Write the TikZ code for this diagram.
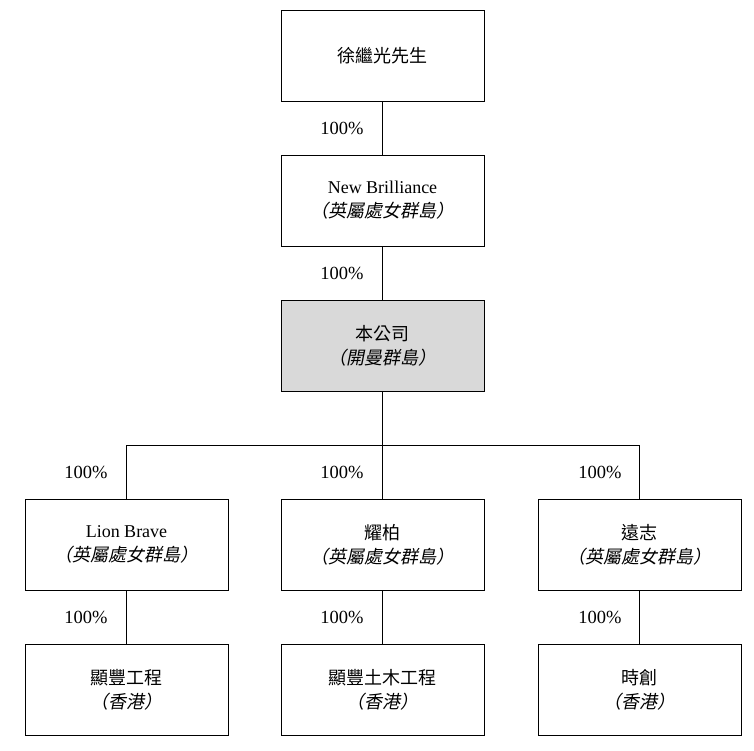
\documentclass[tikz,border=0pt]{standalone}
\usepackage{fontspec}
\setmainfont{Liberation Serif}
\newfontfamily\cjk{Noto Sans CJK TC}
\newfontfamily\cjkit[FakeSlant=0.2]{Noto Sans CJK TC}
\begin{document}
\begin{tikzpicture}[x=1pt,y=-1pt,
  box/.style={draw,line width=0.7pt,minimum width=203pt,minimum height=91pt,align=center,font=\fontsize{18}{24}\selectfont},
  pct/.style={font=\fontsize{18.5}{20}\selectfont},
  ln/.style={line width=0.7pt}]
\useasboundingbox (0,0) rectangle (754,751);
\node[box] (a) at (382.5,55.5) {\cjk 徐繼光先生};
\node[box] (b) at (382.5,200.5) {New Brilliance\\{\cjkit （英屬處女群島）}};
\node[box,fill=black!15] (c) at (382.5,345.5) {{\cjk 本公司}\\{\cjkit （開曼群島）}};
\node[box] (d1) at (126.5,544.5) {Lion Brave\\{\cjkit （英屬處女群島）}};
\node[box] (d2) at (382.5,544.5) {{\cjk 耀柏}\\{\cjkit （英屬處女群島）}};
\node[box] (d3) at (639.5,544.5) {{\cjk 遠志}\\{\cjkit （英屬處女群島）}};
\node[box] (e1) at (126.5,689.5) {{\cjk 顯豐工程}\\{\cjkit （香港）}};
\node[box] (e2) at (382.5,689.5) {{\cjk 顯豐土木工程}\\{\cjkit （香港）}};
\node[box] (e3) at (639.5,689.5) {{\cjk 時創}\\{\cjkit （香港）}};
\coordinate (bus) at (382.5,445);
\draw[ln] (a) -- (b);
\draw[ln] (b) -- (c);
\draw[ln] (c) -- (bus);
\draw[ln] (bus) -| (d1);
\draw[ln] (bus) -| (d3);
\draw[ln] (bus) -- (d2);
\draw[ln] (d1) -- (e1);
\draw[ln] (d2) -- (e2);
\draw[ln] (d3) -- (e3);
\node[pct] (p1) at (342,128) {100\%};
\node[pct] (p2) at (342,273) {100\%};
\node[pct] (p3) at (86,472) {100\%};
\node[pct] (p4) at (342,472) {100\%};
\node[pct] (p5) at (600,472) {100\%};
\node[pct] (p6) at (86,617) {100\%};
\node[pct] (p7) at (342,617) {100\%};
\node[pct] (p8) at (600,617) {100\%};
\end{tikzpicture}
\end{document}
